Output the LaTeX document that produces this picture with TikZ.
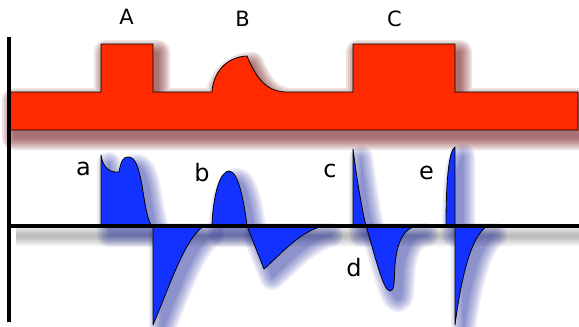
\documentclass[tikz,border=0pt]{standalone}
\usepackage{fontspec}
\setmainfont{DejaVu Sans}
\definecolor{bandred}{RGB}{255,42,0}
\definecolor{pulseblue}{RGB}{20,50,255}
\definecolor{redshadow}{RGB}{110,15,15}
\definecolor{blueshadow}{RGB}{20,30,150}
\definecolor{grayshadow}{RGB}{60,60,60}
\newcommand\blurshape[4]{%
  \foreach \w in {24,20,16,12,8,4,1}{%
    \begin{scope}[transparency group, opacity=#4, shift={#2}]
      \path[fill=#1, draw=#1, line width=\w pt, line join=round] #3;
    \end{scope}}}
\newcommand\bandpath{(9,92) -- (101,92) -- (101,44) -- (153,44) -- (153,92) -- (212,92)
  .. controls (213,74) and (225,57) .. (247,56)
  .. controls (256,78) and (266,91) .. (285,92)
  -- (353,92) -- (353,44) -- (455,44) -- (455,92) -- (578,92) -- (578,130) -- (9,130) -- cycle}
\newcommand\apos{(101,226) -- (101,155) .. controls (103,168) and (110,173) .. (119,172)
  .. controls (121,161) and (123,157) .. (128,157)
  .. controls (135,157) and (138,165) .. (142,185)
  .. controls (145,205) and (148,222) .. (152,226) -- cycle}
\newcommand\aneg{(153,226) -- (153,325) .. controls (170,285) and (185,238) .. (204,226) -- cycle}
\newcommand\bpos{(212,226) .. controls (213,195) and (220,171) .. (229,171)
  .. controls (238,171) and (244,200) .. (247,226) -- cycle}
\newcommand\bneg{(247,226) -- (264,269) .. controls (285,250) and (300,232) .. (323,226) -- cycle}
\newcommand\cpos{(353,226) -- (353,149) .. controls (357,180) and (362,210) .. (366,226) -- cycle}
\newcommand\dneg{(366,226) .. controls (375,255) and (383,291) .. (390,291)
  .. controls (395,291) and (394,280) .. (395,265)
  .. controls (397,240) and (405,227) .. (418,226) -- cycle}
\newcommand\epos{(446,226) .. controls (446,180) and (449,150) .. (455,147) -- (455,226) -- cycle}
\newcommand\eneg{(455,226) -- (455,325) .. controls (462,272) and (472,236) .. (487,226) -- cycle}
\tikzset{
  band/.style={fill=bandred, draw=black, line width=0.8pt, line join=miter},
  pulse/.style={fill=pulseblue, draw=black, line width=0.8pt, line join=round},
  axis/.style={draw=black, line width=3.2pt},
  uplabel/.style={anchor=base, inner sep=0pt, font=\fontsize{21}{25}\selectfont},
  lowlabel/.style={anchor=base, inner sep=0pt, font=\fontsize{24}{28}\selectfont}
}
\begin{document}
\begin{tikzpicture}[x=1pt,y=-1pt]
\useasboundingbox (0,0) rectangle (579,327);
% axis shadow
\coordinate (sL) at (16,236);
\coordinate (sR) at (585,236);
\foreach \w in {20,16,12,8,4}{%
  \draw[grayshadow, opacity=0.08, line width=\w pt] (sL) -- (sR);}
% red band
\blurshape{redshadow}{(5,8)}{\bandpath}{0.12}
\path[band] \bandpath;
% blue pulses
\blurshape{blueshadow}{(8,9)}{\apos}{0.09}
\blurshape{blueshadow}{(8,9)}{\aneg}{0.09}
\blurshape{blueshadow}{(8,9)}{\bpos}{0.09}
\blurshape{blueshadow}{(8,9)}{\bneg}{0.09}
\blurshape{blueshadow}{(8,9)}{\cpos}{0.09}
\blurshape{blueshadow}{(8,9)}{\dneg}{0.09}
\blurshape{blueshadow}{(8,9)}{\epos}{0.09}
\blurshape{blueshadow}{(8,9)}{\eneg}{0.09}
\path[pulse] \apos;
\path[pulse] \aneg;
\path[pulse] \bpos;
\path[pulse] \bneg;
\path[pulse] \cpos;
\path[pulse] \dneg;
\path[pulse] \epos;
\path[pulse] \eneg;
% axes
\coordinate (vtop) at (9,37);
\coordinate (vbot) at (9,322);
\coordinate (hL) at (9,226);
\coordinate (hR) at (579,226);
\draw[axis] (vtop) -- (vbot);
\draw[axis] (hL) -- (hR);
% labels
\node[uplabel] (lA) at (126.5,24.7) {A};
\node[uplabel] (lB) at (242.5,26) {B};
\node[uplabel] (lC) at (394.5,26) {C};
\node[lowlabel] (la) at (83.5,175.7) {a};
\node[lowlabel] (lb) at (202,181) {b};
\node[lowlabel] (lc) at (330,177.3) {c};
\node[lowlabel] (ld) at (354,276.7) {d};
\node[lowlabel] (le) at (426.5,179.3) {e};
\end{tikzpicture}
\end{document}
